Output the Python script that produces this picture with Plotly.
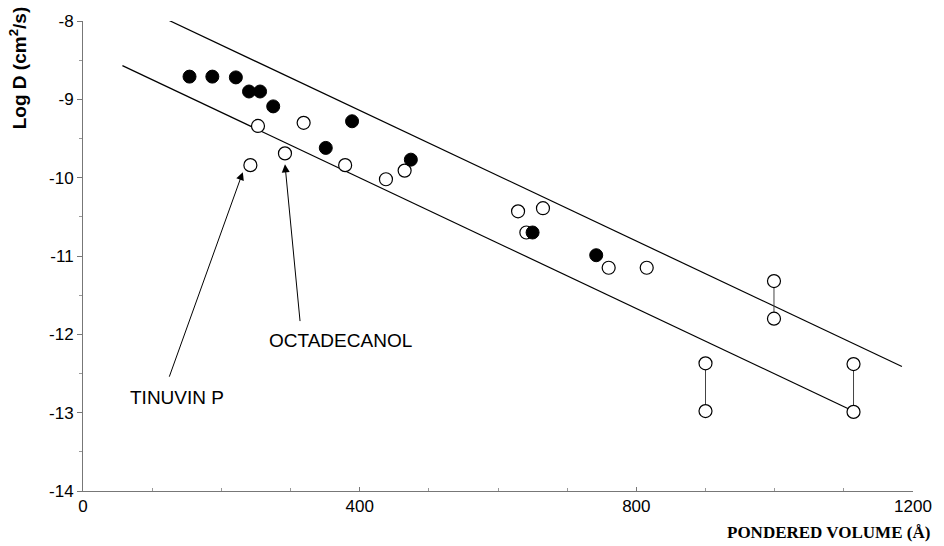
import plotly.graph_objects as go

# Filled circles
filled_x = [154, 187, 221, 240, 256, 275, 389, 351, 474, 650, 742]
filled_y = [-8.71, -8.71, -8.72, -8.90, -8.90, -9.09, -9.28, -9.62, -9.77, -10.70, -10.99]

# Open circles (single)
open_x = [253, 319, 242, 292, 379, 438, 465, 629, 665, 641, 760, 815]
open_y = [-9.34, -9.30, -9.84, -9.69, -9.84, -10.02, -9.91, -10.43, -10.39, -10.70, -11.15, -11.15]

# Open circle pairs joined by vertical bars
pair_x = [900, 999, 1114]
pair_y_top = [-12.37, -11.32, -12.38]
pair_y_bot = [-12.98, -11.80, -12.99]

# Band lines
upper_x = [119, 1184]
upper_y = [-7.97, -12.41]
lower_x = [57, 1121]
lower_y = [-8.57, -13.01]

y_ticks = [-8, -9, -10, -11, -12, -13, -14]
x_ticks = [0, 400, 800, 1200]

fig = go.Figure()

for lx, ly in [(upper_x, upper_y), (lower_x, lower_y)]:
    fig.add_trace(go.Scatter(x=lx, y=ly, mode="lines",
                             line=dict(color="black", width=1.2),
                             hoverinfo="skip", showlegend=False))

for px, yt, yb in zip(pair_x, pair_y_top, pair_y_bot):
    fig.add_trace(go.Scatter(x=[px, px], y=[yt, yb], mode="lines+markers",
                             line=dict(color="#444", width=1),
                             marker=dict(size=13, color="white",
                                         line=dict(color="black", width=1.2)),
                             showlegend=False))

fig.add_trace(go.Scatter(x=open_x, y=open_y, mode="markers",
                         marker=dict(size=13, color="white",
                                     line=dict(color="black", width=1.2)),
                         showlegend=False))
fig.add_trace(go.Scatter(x=filled_x, y=filled_y, mode="markers",
                         marker=dict(size=13, color="black",
                                     line=dict(color="black", width=1)),
                         showlegend=False))

# Arrows
arrow_style = dict(showarrow=True, arrowhead=2, arrowsize=1.6, arrowwidth=1,
                   arrowcolor="black", xref="x", yref="y", axref="x", ayref="y", text="")
fig.add_annotation(x=231, y=-9.93, ax=124, ay=-12.56, **arrow_style)
fig.add_annotation(x=292, y=-9.83, ax=314, ay=-11.85, **arrow_style)

fig.add_annotation(x=136, y=-12.80, text="TINUVIN P", showarrow=False,
                   font=dict(family="Liberation Sans, Arial", size=19, color="black"))
fig.add_annotation(x=373, y=-12.08, text="OCTADECANOL", showarrow=False,
                   font=dict(family="Liberation Sans, Arial", size=19, color="black"))

# Axis titles
fig.add_annotation(xref="paper", yref="paper", x=1.023, y=-0.089,
                   xanchor="right", yanchor="middle", showarrow=False,
                   text="<b>PONDERED VOLUME (Å)</b>",
                   font=dict(family="Liberation Serif, Times New Roman", size=17, color="black"))
fig.add_annotation(xref="paper", yref="paper", x=-0.078, y=0.90,
                   xanchor="center", yanchor="middle", showarrow=False, textangle=-90,
                   text="<b>Log D (cm<sup>2</sup>/s)</b>",
                   font=dict(family="Liberation Sans, Arial", size=19, color="black"))

fig.update_layout(
    width=944, height=546,
    margin=dict(l=83, r=22, t=20, b=55),
    paper_bgcolor="white", plot_bgcolor="white",
    font=dict(family="Liberation Sans, Arial", size=17, color="black"),
    xaxis=dict(range=[0, 1200], tickvals=x_ticks, ticktext=[str(v) for v in x_ticks],
               showgrid=False, zeroline=False, showline=True, linecolor="#777",
               linewidth=1, ticks="inside", ticklen=4, tickcolor="#777",
               minor=dict(ticks="inside", dtick=100, ticklen=3, tickcolor="#999"),
               tickfont=dict(size=17)),
    yaxis=dict(range=[-14, -8], tickvals=y_ticks, ticktext=[str(v) for v in y_ticks],
               showgrid=False, zeroline=False, showline=True, linecolor="#777",
               linewidth=1, ticks="outside", ticklen=5, tickcolor="#777",
               minor=dict(ticks="outside", dtick=0.5, ticklen=3, tickcolor="#999"),
               tickfont=dict(size=17)),
)

fig.write_html("out.html")
